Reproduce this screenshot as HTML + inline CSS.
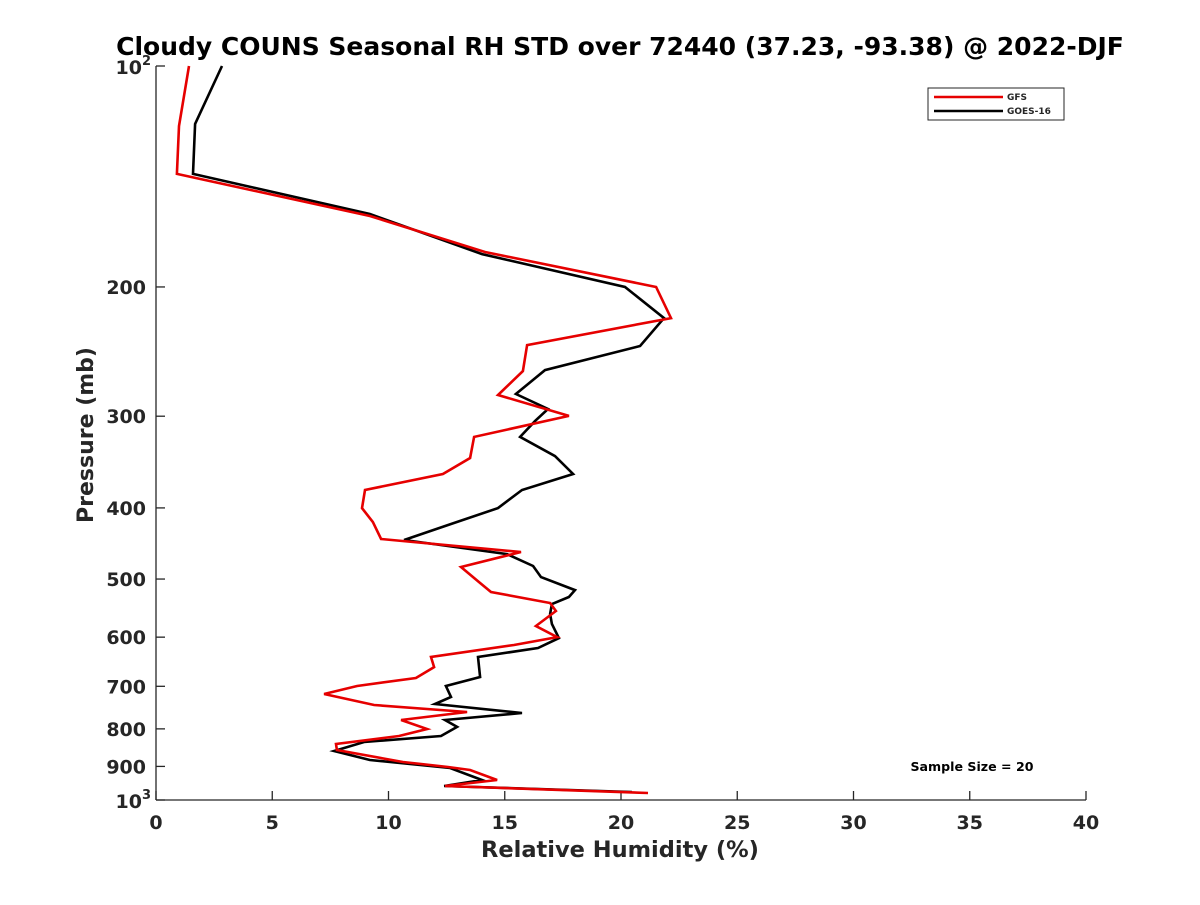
<!DOCTYPE html>
<html><head><meta charset="utf-8"><style>
body{margin:0;background:#fff;}
svg text{font-family:"DejaVu Sans","Liberation Sans",sans-serif;font-weight:bold;fill:#262626;}
</style></head><body>
<svg id="chart" width="1200" height="900" viewBox="0 0 1200 900" xmlns="http://www.w3.org/2000/svg">
<rect width="1200" height="900" fill="#fff"/>
<text x="620" y="55" font-size="25" text-anchor="middle" style="fill:#000">Cloudy COUNS Seasonal RH STD over 72440 (37.23, -93.38) @ 2022-DJF</text>
<g id="axes"></g>
<g id="series"></g>
<text x="620" y="857" font-size="22.5" text-anchor="middle">Relative Humidity (%)</text>
<text transform="translate(93,435) rotate(-90)" font-size="22" text-anchor="middle">Pressure (mb)</text>
<g>
<rect x="928" y="88" width="136" height="32" fill="#fff" stroke="#262626" stroke-width="1"/>
<line x1="934" y1="97" x2="1003" y2="97" stroke="#e60000" stroke-width="2.5"/>
<text x="1007" y="100" font-size="9">GFS</text>
<line x1="934" y1="111" x2="1003" y2="111" stroke="#000" stroke-width="2.5"/>
<text x="1007" y="114" font-size="9">GOES-16</text>
</g>
<text x="972" y="771" font-size="12.6" text-anchor="middle" style="fill:#000">Sample Size = 20</text>
</svg>
<script>
const xTicks=[0,5,10,15,20,25,30,35,40];
const yTicks=[200,300,400,500,600,700,800,900];
const gfsP=[100,120.7,140.3,160.1,179.2,200,220.5,240,260.4,280.7,299.7,320.1,342,359.6,378.1,400.2,418.2,441,459.4,481.5,504.7,520.8,539.1,552.8,579.4,599.8,615,638.6,659,682.1,699.4,717.2,742.4,758.8,778,800.3,818,838.8,854.8,887.5,901.6,910.2,939.3,957,978.4];
const gfsV=[1.42,0.99,0.90,9.20,14.15,21.51,22.15,15.96,15.78,14.71,17.76,13.68,13.51,12.34,8.99,8.86,9.33,9.68,15.70,13.12,13.89,14.41,16.95,17.20,16.34,17.25,15.40,11.83,11.96,11.18,8.65,7.23,9.38,13.38,10.54,11.66,10.45,7.74,7.78,10.62,12.56,13.51,14.67,12.43,21.16];
const goesP=[100,119.9,140.3,159.1,180.4,200,220.5,240.7,259.6,279.8,293.3,304.6,320.1,340,359.6,378.1,400.2,420.7,442.4,462.3,480,496.9,517.6,528.9,540.8,558,575.8,601.7,620.8,638.6,679.9,699.4,723.9,739.9,761.1,778,795.2,818,833.6,857.4,882,904.5,939.3,957,975.2];
const goesV=[2.84,1.68,1.59,9.20,14.02,20.17,21.85,20.82,16.73,15.48,16.86,16.30,15.66,17.16,17.94,15.74,14.71,12.69,10.67,15.10,16.22,16.56,18.02,17.76,17.03,16.95,17.03,17.33,16.43,13.85,13.94,12.47,12.69,12.00,15.74,12.43,12.95,12.26,8.95,7.66,9.20,12.65,14.02,12.39,20.47];

const L=156,R=1086,T=66,B=800;
const xs=v=>L+(R-L)*v/40;
const ys=p=>T+(B-T)*Math.log10(p/100);
const NS="http://www.w3.org/2000/svg";
const ax=document.getElementById('axes');
function mk(tag,attrs,parent){const e=document.createElementNS(NS,tag);for(const k in attrs)e.setAttribute(k,attrs[k]);parent.appendChild(e);return e;}
const xa=mk('line',{x1:L,y1:B,x2:R,y2:B,stroke:'#262626','stroke-width':1.3},ax);


const ya=mk('line',{x1:L,y1:T,x2:L,y2:B,stroke:'#262626','stroke-width':1.3},ax);


xTicks.forEach(v=>{
  mk('line',{x1:xs(v),y1:B,x2:xs(v),y2:B-9,stroke:'#262626','stroke-width':1.3},ax);
  const t=mk('text',{x:xs(v),y:B+29,'font-size':19,'text-anchor':'middle'},ax);
  t.textContent=v;
  
  
});
yTicks.forEach(p=>{
  mk('line',{x1:L,y1:ys(p),x2:L+9,y2:ys(p),stroke:'#262626','stroke-width':1.3},ax);
  const t=mk('text',{x:L-10,y:ys(p)+7,'font-size':19,'text-anchor':'end'},ax);
  t.textContent=p;
  
  
});
[[100,'2'],[1000,'3']].forEach(([p,e])=>{
  mk('line',{x1:L,y1:ys(p),x2:L+9,y2:ys(p),stroke:'#262626','stroke-width':1.3},ax);
  const t=mk('text',{x:L-14,y:ys(p)+8,'font-size':19,'text-anchor':'end'},ax);
  t.textContent='10';
  
  
  const s=mk('text',{x:L-14,y:ys(p)-1,'font-size':13,'text-anchor':'start'},ax);
  s.textContent=e;
  
  
});
const sg=document.getElementById('series');
function line(P,V,color,name){
  const pts=P.map((p,i)=>xs(V[i]).toFixed(1)+','+ys(p).toFixed(1)).join(' ');
  const pl=mk('polyline',{points:pts,fill:'none',stroke:color,'stroke-width':2.6,'stroke-linejoin':'miter'},sg);
  
  
}
line(goesP,goesV,'#000','goes16-line');
line(gfsP,gfsV,'#e60000','gfs-line');
</script>
</body></html>
